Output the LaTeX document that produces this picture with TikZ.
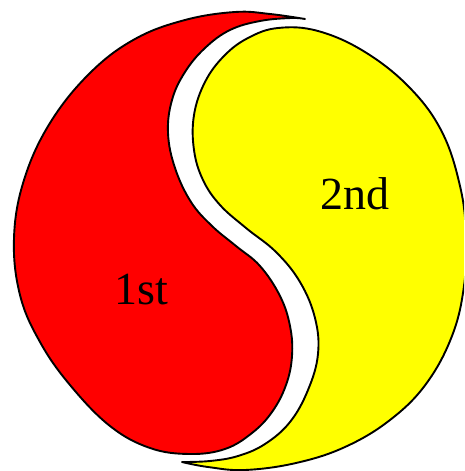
\documentclass[tikz,border=0pt]{standalone}
\usepackage{fontspec}
\setmainfont{Liberation Serif}
\definecolor{pieceyellow}{RGB}{255,255,0}
\definecolor{piecered}{RGB}{255,0,0}
\begin{document}
\begin{tikzpicture}[x=1pt,y=-1pt,
  piece/.style={draw=black,line width=1.9pt,line join=round},
  lbl/.style={anchor=base,inner sep=0pt,font=\fontsize{46}{50}\selectfont}]
\useasboundingbox (0,0) rectangle (464,471);
\begin{scope}
\clip (0,0) rectangle (464,471);
% red piece
\filldraw[piece,fill=piecered] plot[smooth,tension=0.65] coordinates {
 (305,19) (270,14) (235,12) (185,20) (135,39) (90,73) (50,123)
 (24,180) (14,238) (20,295) (40,342) (70,385) (110,426) (150,448) (190,454)
 (225,449) (252,433) (272,412) (286,385) (292,356) (290,326) (280,296)
 (260,266) (236,246) (212,226) (191,202) (175,168) (168,133) (172,100)
 (185,72) (205,48) (230,30) (260,21) (291,18) (305,19)} -- cycle;
% yellow piece
\filldraw[piece,fill=pieceyellow] plot[smooth,tension=0.65] coordinates {
 (182,462) (208,467) (245,470) (296,463) (345,447) (390,420) (426,384)
 (452,336) (464,286) (466,235) (460,186) (442,132) (410,88) (365,52)
 (318,31) (278,28) (248,38) (224,56) (205,82) (194,115) (194,150) (203,180)
 (220,205) (246,228) (276,252) (300,282) (315,318) (318,354) (308,390)
 (290,422) (265,444) (238,456) (210,461) (182,462)} -- cycle;
\end{scope}
\node[lbl] (first) at (141,304) {1st};
\node[lbl] (second) at (355,209) {2nd};
\end{tikzpicture}
\end{document}
